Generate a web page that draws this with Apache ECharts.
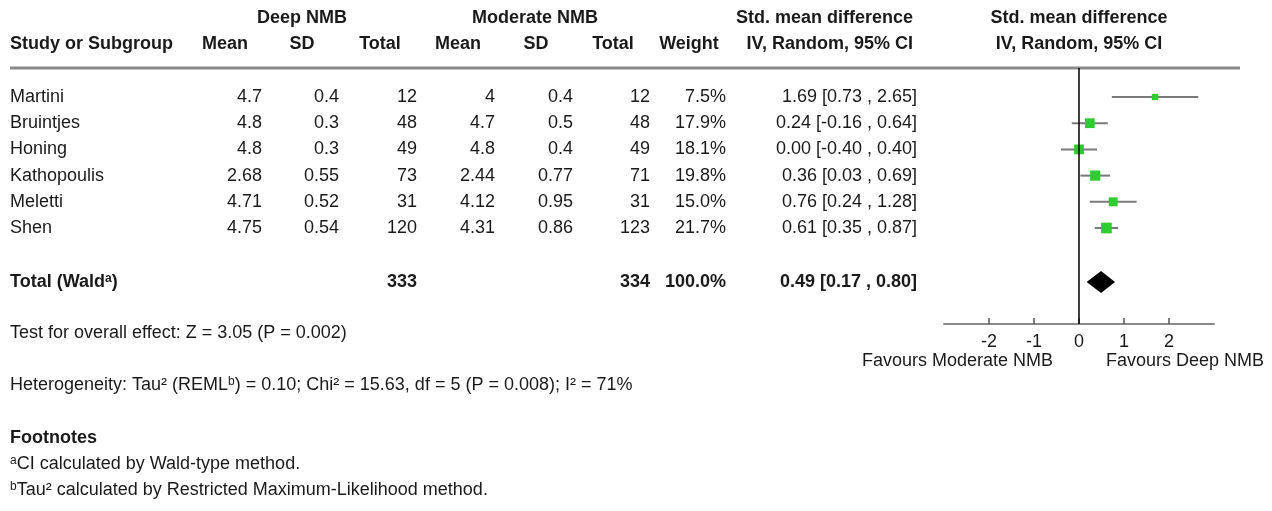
<!DOCTYPE html>
<html>
<head>
  <meta charset="utf-8">
  <title>Forest plot</title>
  <script src="https://cdn.jsdelivr.net/npm/echarts@6/dist/echarts.min.js"></script>
  <style>
    html, body { margin: 0; padding: 0; background: #fff; }
    #main { width: 1272px; height: 511px; }
  </style>
</head>
<body>
  <div id="main"></div>
  <script type="text/javascript">
    // data
    var studies = ['Martini', 'Bruintjes', 'Honing', 'Kathopoulis', 'Meletti', 'Shen'];
    var deepMean = ['4.7', '4.8', '4.8', '2.68', '4.71', '4.75'];
    var deepSD = ['0.4', '0.3', '0.3', '0.55', '0.52', '0.54'];
    var deepN = [12, 48, 49, 73, 31, 120];
    var modMean = ['4', '4.7', '4.8', '2.44', '4.12', '4.31'];
    var modSD = ['0.4', '0.5', '0.4', '0.77', '0.95', '0.86'];
    var modN = [12, 48, 49, 71, 31, 123];
    var weights = [7.5, 17.9, 18.1, 19.8, 15.0, 21.7];
    var smd = [1.69, 0.24, 0.00, 0.36, 0.76, 0.61];
    var ciLow = [0.73, -0.16, -0.40, 0.03, 0.24, 0.35];
    var ciHigh = [2.65, 0.64, 0.40, 0.69, 1.28, 0.87];
    var totalDeepN = 333;
    var totalModN = 334;
    var totalWeight = 100.0;
    var totalEst = [0.49, 0.17, 0.80];   // estimate, lower, upper
    var xTicks = [-2, -1, 0, 1, 2];

    var FONT = '"Liberation Sans", Arial, sans-serif';
    var FS = 18;
    var ROW0 = 97, ROWH = 26.2, TOTAL_ROW = 7.06;
    var INK = '#1a1a1a';
    // right edges of the table columns
    var colRight = [262, 339, 417, 495, 573, 650, 726, 917];

    function rowY(i) { return ROW0 + ROWH * i; }
    function fmt2(v) { return v.toFixed(2); }
    function ciText(e, l, h) { return fmt2(e) + ' [' + fmt2(l) + ' , ' + fmt2(h) + ']'; }

    function txt(x, y, s, align, bold) {
      return {
        type: 'text', x: x, y: y, silent: true,
        style: {
          text: s, fill: INK, align: align || 'left', verticalAlign: 'middle',
          font: (bold ? 'bold ' : '') + FS + 'px ' + FONT
        }
      };
    }
    function rich(x, y, s, bold) {
      var w = bold ? 'bold' : 'normal';
      return {
        type: 'text', x: x, y: y, silent: true,
        style: {
          text: s, fill: INK, align: 'left', verticalAlign: 'middle',
          fontFamily: FONT, fontSize: FS, fontWeight: w,
          rich: {
            n: { fontFamily: FONT, fontSize: FS, fontWeight: w, fill: INK },
            s: { fontFamily: FONT, fontSize: 12, fontWeight: w, fill: INK, verticalAlign: 'top', padding: [0, 0, 7, 0] }
          }
        }
      };
    }

    var g = [];
    // header rows
    g.push(txt(302, 18, 'Deep NMB', 'center', true));
    g.push(txt(535, 18, 'Moderate NMB', 'center', true));
    g.push(txt(913, 18, 'Std. mean difference', 'right', true));
    g.push(txt(1079, 18, 'Std. mean difference', 'center', true));
    g.push(txt(10, 44, 'Study or Subgroup', 'left', true));
    var heads = ['Mean', 'SD', 'Total', 'Mean', 'SD', 'Total', 'Weight'];
    heads.forEach(function (h, k) { g.push(txt(colRight[k] - 37, 44, h, 'center', true)); });
    g.push(txt(913, 44, 'IV, Random, 95% CI', 'right', true));
    g.push(txt(1079, 44, 'IV, Random, 95% CI', 'center', true));
    g.push({ type: 'line', silent: true, shape: { x1: 10, y1: 68, x2: 1240, y2: 68 },
             style: { stroke: '#8a8a8a', lineWidth: 3 } });

    // study rows
    studies.forEach(function (s, i) {
      var y = rowY(i);
      var cells = [deepMean[i], deepSD[i], deepN[i], modMean[i], modSD[i], modN[i],
                   weights[i].toFixed(1) + '%', ciText(smd[i], ciLow[i], ciHigh[i])];
      g.push(txt(10, y, s, 'left'));
      cells.forEach(function (c, k) { g.push(txt(colRight[k], y, String(c), 'right')); });
    });

    // total row
    var ty = rowY(TOTAL_ROW);
    g.push(rich(10, ty, '{n|Total (Wald}{s|a}{n|)}', true));
    g.push(txt(colRight[2], ty, String(totalDeepN), 'right', true));
    g.push(txt(colRight[5], ty, String(totalModN), 'right', true));
    g.push(txt(colRight[6], ty, totalWeight.toFixed(1) + '%', 'right', true));
    g.push(txt(colRight[7], ty, ciText(totalEst[0], totalEst[1], totalEst[2]), 'right', true));

    // notes
    g.push(txt(10, 333, 'Test for overall effect: Z = 3.05 (P = 0.002)', 'left'));
    g.push(rich(10, 385, '{n|Heterogeneity: Tau\u00b2 (REML}{s|b}{n|) = 0.10; Chi\u00b2 = 15.63, df = 5 (P = 0.008); I\u00b2 = 71%}', false));
    g.push(txt(10, 438, 'Footnotes', 'left', true));
    g.push(rich(10, 464, '{s|a}{n|CI calculated by Wald-type method.}', false));
    g.push(rich(10, 490, '{s|b}{n|Tau\u00b2 calculated by Restricted Maximum-Likelihood method.}', false));

    // favours labels
    g.push(txt(1053, 361, 'Favours Moderate NMB', 'right'));
    g.push(txt(1106, 361, 'Favours Deep NMB', 'left'));

    var studyData = studies.map(function (s, i) {
      return [smd[i], i, ciLow[i], ciHigh[i], weights[i]];
    });
    var totalData = [[totalEst[0], TOTAL_ROW, totalEst[1], totalEst[2]]];

    var myChart = echarts.init(document.getElementById('main'));
    var option = {
      animation: false,
      backgroundColor: '#fff',
      textStyle: { fontFamily: FONT },
      grid: { left: 944, width: 270, top: 68, height: 256 },
      xAxis: {
        type: 'value', min: -3, max: 3, interval: 1,
        splitLine: { show: false },
        axisLine: { onZero: false, lineStyle: { color: '#8a8a8a', width: 2 } },
        axisTick: { inside: true, length: 6, customValues: xTicks, lineStyle: { color: '#555', width: 1.5 } },
        axisLabel: { customValues: xTicks, margin: 9, color: INK, fontSize: FS, fontFamily: FONT }
      },
      yAxis: {
        type: 'value', inverse: true, min: -1.107, max: 8.664,
        show: false, splitLine: { show: false }
      },
      series: [
        {
          type: 'custom',
          data: studyData,
          renderItem: function (params, api) {
            var lo = api.coord([api.value(2), api.value(1)]);
            var hi = api.coord([api.value(3), api.value(1)]);
            var c = api.coord([api.value(0), api.value(1)]);
            var sz = 2.3 * Math.sqrt(api.value(4));
            return {
              type: 'group',
              children: [
                { type: 'line', shape: { x1: lo[0], y1: lo[1], x2: hi[0], y2: hi[1] },
                  style: { stroke: '#7a7a7a', lineWidth: 2 } },
                { type: 'rect', shape: { x: c[0] - sz / 2, y: c[1] - sz / 2, width: sz, height: sz },
                  style: { fill: '#2fcc2f' } }
              ]
            };
          },
          markLine: {
            silent: true, symbol: 'none', label: { show: false },
            lineStyle: { color: '#000', width: 1.5, type: 'solid' },
            data: [{ xAxis: 0 }]
          }
        },
        {
          type: 'custom',
          data: totalData,
          renderItem: function (params, api) {
            var y = api.value(1);
            var l = api.coord([api.value(2), y]);
            var r = api.coord([api.value(3), y]);
            var c = api.coord([api.value(0), y]);
            var h = 11;
            return {
              type: 'polygon',
              shape: { points: [[l[0], l[1]], [c[0], c[1] - h], [r[0], r[1]], [c[0], c[1] + h]] },
              style: { fill: '#000' }
            };
          }
        }
      ],
      graphic: g
    };
    myChart.setOption(option);
  </script>
</body>
</html>
